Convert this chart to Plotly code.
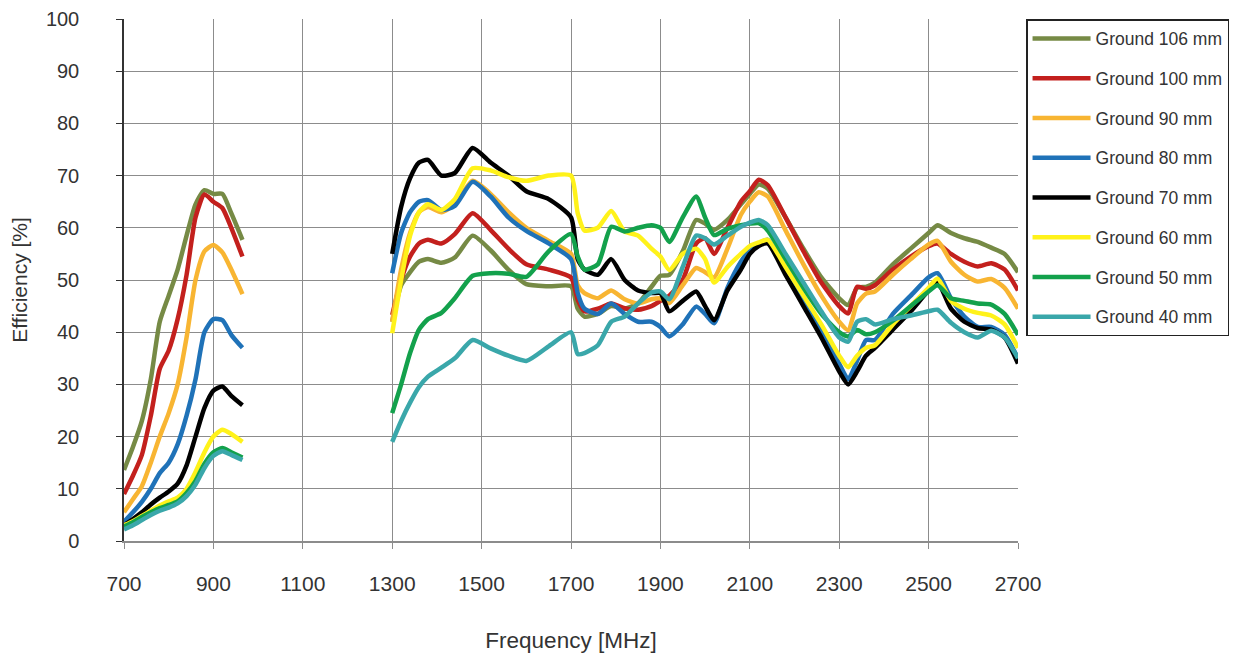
import plotly.graph_objects as go

# ---------------- data ----------------
freq_low = [700, 720, 740, 760, 780, 800, 820, 840, 860, 880, 900, 920, 940, 965]
freq_high = [1300, 1320, 1340, 1360, 1380, 1410, 1440, 1480, 1520, 1560, 1600, 1650, 1700,
             1715, 1730, 1760, 1790, 1820, 1850, 1880, 1900, 1920, 1950, 1980, 2000, 2020,
             2050, 2080, 2100, 2120, 2140, 2180, 2220, 2260, 2300, 2320, 2340, 2360, 2380,
             2420, 2460, 2500, 2520, 2550, 2580, 2610, 2640, 2670, 2700]

series_names = ["Ground 106 mm", "Ground 100 mm", "Ground 90 mm", "Ground 80 mm",
                "Ground 70 mm", "Ground 60 mm", "Ground 50 mm", "Ground 40 mm"]

g106_low = [13.6, 18, 23, 31, 42, 47, 52, 58.5, 64.5, 67.2, 66.5, 66.5, 62.8, 57.7]
g106_high = [42, 49, 51.5, 53.5, 54, 53.3, 54.3, 58.5, 55.7, 52, 49.2, 48.8, 48.8,
             44.5, 43, 43.5, 45, 44.5, 45.5, 48.7, 50.8, 51, 55.5, 61.5, 60.8, 59.6,
             61.5, 64.5, 66.5, 68.3, 67.5, 62, 56, 50.5, 46.5, 45.2, 48.5, 48.7, 49.5,
             53, 56, 59, 60.5, 59, 58, 57.3, 56.2, 55, 51.5]

g100_low = [9, 12.5, 16.5, 24, 33, 36.5, 42.5, 51, 62, 66.4, 65, 63.8, 60, 54.5]
g100_high = [43.3, 50, 54.5, 57, 57.7, 57, 58.8, 62.8, 59.6, 56, 53, 52, 50.5,
             46.2, 44, 44.5, 45.5, 44.6, 44.3, 45, 46, 47, 50, 57, 58, 55,
             60, 65, 67, 69.2, 68.2, 62, 55.5, 49.5, 45, 43.6, 48.7, 48.3, 49,
             52, 54.5, 56.5, 57, 55, 53.5, 52.6, 53.2, 52, 48]

g90_low = [5.5, 8, 10.5, 15, 20, 24.5, 30, 39, 50, 55.5, 56.7, 55.3, 52, 47.3]
g90_high = [42, 52, 59, 63, 64, 63, 64.5, 69, 66.5, 63, 60, 57.5, 55,
            49, 47.5, 46.5, 48, 46.3, 45.5, 46.3, 46.5, 45.6, 49, 52.3, 51.5, 50.5,
            56, 62.5, 65, 66.8, 66, 59.5, 53, 47, 42, 40.4, 45.5, 47.4, 47.8,
            51, 54, 56.8, 57.5, 53.5, 51, 49.7, 50.2, 48.5, 44.5]

g80_low = [3.7, 5.5, 7.5, 10, 13, 15, 18.5, 24, 31, 40, 42.5, 42.3, 39.5, 37]
g80_high = [51.3, 59, 63, 65, 65.3, 63.4, 64.2, 68.8, 66, 62, 59.4, 57, 54,
            47.5, 44.5, 43.5, 45.5, 43.5, 42, 42, 41, 39.2, 41.5, 44.9, 43.5, 41.7,
            48.5, 53.5, 55.7, 57, 57.7, 52, 46.5, 40.5, 34, 31, 34.5, 38.5, 38.5,
            43.5, 47, 50.5, 51.3, 46.5, 43, 41, 41, 39.5, 35]

g70_low = [3, 4.2, 5.5, 7, 8.3, 9.5, 11, 14.5, 20, 25.5, 28.8, 29.6, 27.8, 26]
g70_high = [55, 64, 69.5, 72.5, 73, 70, 70.5, 75.3, 72.5, 70, 67, 65.5, 62,
            54, 52, 51, 54, 50, 48, 47.5, 47.5, 44, 46, 47.8, 45, 42.3,
            48, 52, 55, 56.5, 57, 51, 45, 39, 32.5, 30, 32.5, 35.5, 37,
            40.5, 44, 48, 49.5, 44.5, 42, 40.8, 40.5, 39, 34]

g60_low = [3, 3.8, 4.8, 5.8, 6.8, 7.6, 8.3, 10, 13.2, 17, 20, 21.3, 20.5, 19]
g60_high = [39.8, 50, 58.5, 63, 64.5, 63.4, 65.5, 71.4, 71, 69.7, 69, 70, 70,
            62.8, 59.5, 60, 63.2, 59.3, 58.5, 56, 54.5, 51.9, 55, 56, 54, 49.5,
            52.5, 55, 56.5, 57.2, 57.7, 52.5, 47, 41.5, 35.5, 33.3, 35.5, 37, 37.5,
            41.5, 45, 48.5, 50.3, 46, 44.5, 43.7, 43.2, 41.5, 37]

g50_low = [2.8, 3.6, 4.6, 5.5, 6.3, 6.9, 7.6, 9.2, 11.5, 14.8, 17, 17.8, 17, 16]
g50_high = [24.5, 30, 36, 40.5, 42.5, 43.7, 46.5, 50.8, 51.3, 51.2, 50.6, 55.5, 58.8,
            54.5, 52, 53, 60.2, 59.3, 60, 60.5, 60, 57.3, 62, 66, 62, 58.6,
            59.8, 60.5, 60.8, 60.9, 59.5, 54, 48.5, 43.5, 40, 39.2, 40.4, 39.6, 40,
            42.2, 45, 47.8, 49, 46.5, 46, 45.5, 45.3, 43.5, 39.5]

g40_low = [2.2, 3, 4, 5, 5.8, 6.4, 7.2, 8.6, 10.8, 14, 16.3, 17.2, 16.5, 15.5]
g40_high = [19, 23, 26.5, 29.5, 31.5, 33.2, 35, 38.5, 36.9, 35.5, 34.5, 37.3, 40,
            35.8, 36, 37.5, 42, 43, 45.5, 47.6, 47.8, 46.3, 52.5, 58.5, 58, 56.8,
            58.5, 60.2, 61, 61.5, 60.5, 55, 49.5, 44, 39, 38.2, 42, 42.5, 41.5,
            42.5, 43.2, 44, 44.3, 41.8, 40, 39, 40.3, 39, 35]

low_values = [g106_low, g100_low, g90_low, g80_low, g70_low, g60_low, g50_low, g40_low]
high_values = [g106_high, g100_high, g90_high, g80_high, g70_high, g60_high, g50_high, g40_high]

colors = ["#768a45", "#c3201d", "#f8b532", "#1f72b8", "#000000", "#fff21a", "#13a14c", "#3aa7aa"]

x_ticks = [700, 900, 1100, 1300, 1500, 1700, 1900, 2100, 2300, 2500, 2700]
y_ticks = [0, 10, 20, 30, 40, 50, 60, 70, 80, 90, 100]

# ---------------- figure ----------------
fig = go.Figure()
for name, lo, hi, col in zip(series_names, low_values, high_values, colors):
    xs = freq_low + [None] + freq_high
    ys = lo + [None] + hi
    fig.add_trace(go.Scatter(
        x=xs, y=ys, mode="lines", name=name, legendgroup=name,
        line=dict(color=col, width=4.5, shape="spline", smoothing=0.6),
        connectgaps=False,
    ))

fig.update_layout(
    width=1239, height=660,
    margin=dict(l=116, r=229, t=11, b=127, autoexpand=False),
    paper_bgcolor="white", plot_bgcolor="white",
    showlegend=True,
    legend=dict(
        x=1.009, y=1.0, xanchor="left", yanchor="top",
        bordercolor="#222222", borderwidth=1.5, bgcolor="white",
        font=dict(family="Liberation Sans, Arial, sans-serif", size=17.5, color="#333333"),
        tracegroupgap=14, itemwidth=58,
    ),
    font=dict(family="Liberation Sans, Arial, sans-serif", color="#333333"),
)

fig.update_xaxes(
    range=[700, 2700], tickvals=x_ticks, ticktext=[str(t) for t in x_ticks],
    showgrid=True, gridcolor="#8c8c8c", gridwidth=1.3,
    showline=True, linecolor="#8c8c8c", linewidth=1.5,
    ticks="outside", ticklen=6, tickcolor="#8c8c8c", ticklabelstandoff=17,
    tickfont=dict(family="Liberation Sans Narrow, Liberation Sans, sans-serif", size=21, color="#333333"),
    title=dict(text="Frequency [MHz]", standoff=38,
               font=dict(family="Liberation Sans Narrow, Liberation Sans, sans-serif", size=22.5, color="#333333")),
    zeroline=False, automargin=False,
)
fig.update_yaxes(
    range=[0, 100], tickvals=y_ticks,
    showgrid=True, gridcolor="#8c8c8c", gridwidth=1.3,
    showline=True, linecolor="#333333", linewidth=1.5,
    ticks="outside", ticklen=6, tickcolor="#333333", ticklabelstandoff=33,
    tickfont=dict(family="Liberation Sans, Arial, sans-serif", size=20, color="#333333"),
    title=dict(text="Efficiency [%]", standoff=22,
               font=dict(family="Liberation Sans, Arial, sans-serif", size=21, color="#333333")),
    zeroline=False, automargin=False,
)

fig.write_html("out.html")
